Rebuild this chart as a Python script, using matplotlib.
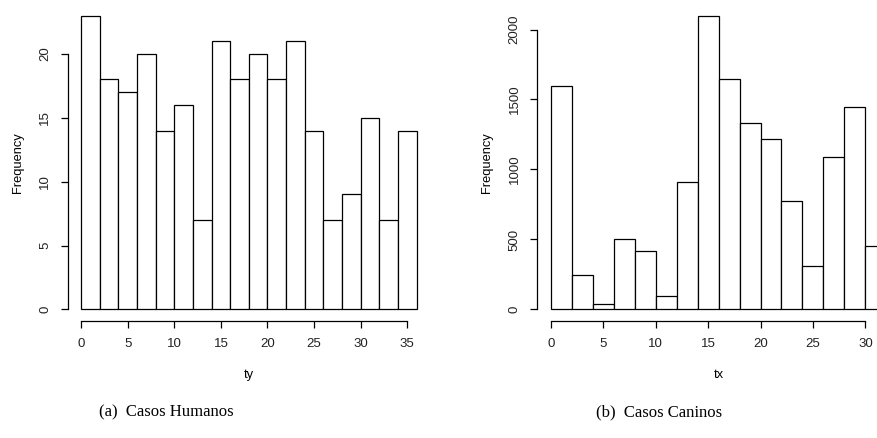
import numpy as np
import matplotlib
matplotlib.use("Agg")
import matplotlib.pyplot as plt

# histogram counts (bins of width 2)
human_edges = np.arange(0, 38, 2)
human_counts = [23, 18, 17, 20, 14, 16, 7, 21, 18, 20, 18, 21, 14, 7, 9, 15, 7, 14]
human_yticks = [0, 5, 10, 15, 20]
human_xticks = [0, 5, 10, 15, 20, 25, 30, 35]

canine_edges = np.arange(0, 34, 2)
canine_counts = [1600, 245, 42, 502, 414, 95, 914, 2100, 1645, 1329,
                 1221, 776, 312, 1086, 1445, 450]
canine_yticks = [0, 500, 1000, 1500, 2000]
canine_xticks = [0, 5, 10, 15, 20, 25, 30]

plt.rcParams['font.family'] = ['Liberation Sans', 'DejaVu Sans']
fig = plt.figure(figsize=(8.77, 4.38), dpi=100)


def r_hist(ax, edges, counts, xticks, yticks, xlabel):
    ax.bar(edges[:-1], counts, width=np.diff(edges), align='edge',
           facecolor='white', edgecolor='black', linewidth=0.9)
    lo, hi = edges[0], edges[-1]
    pad = (hi - lo) * 0.04
    ax.set_xlim(lo - pad, hi + pad)
    ymax = max(counts)
    ax.set_ylim(-ymax * 0.04, ymax * 1.04)
    for s in ['top', 'right']:
        ax.spines[s].set_visible(False)
    ax.spines['left'].set_bounds(yticks[0], yticks[-1])
    ax.spines['bottom'].set_bounds(xticks[0], xticks[-1])
    for s in ['left', 'bottom']:
        ax.spines[s].set_linewidth(0.9)
    ax.set_xticks(xticks)
    ax.set_yticks(yticks)
    ax.set_yticklabels([str(t) for t in yticks], rotation=90, va='center')
    ax.tick_params(direction='out', length=5, width=0.9, labelsize=9.5,
                   colors='black', labelcolor='#222222', pad=7)
    ax.set_xlabel(xlabel, fontsize=9.3, labelpad=14)
    ax.set_ylabel('Frequency', fontsize=9.3, labelpad=11)


ax1 = fig.add_axes([0.0772, 0.2667, 0.4131, 0.7247])
r_hist(ax1, human_edges, human_counts, human_xticks, human_yticks, 'ty')

ax2 = fig.add_axes([0.6127, 0.2667, 0.4133, 0.7247])
r_hist(ax2, canine_edges, canine_counts, canine_xticks, canine_yticks, 'tx')

fig.text(166 / 877, 1 - 412 / 438, '(a)  Casos Humanos', family='Liberation Serif',
         fontsize=12, ha='center', va='center')
fig.text(659 / 877, 1 - 412 / 438, '(b)  Casos Caninos', family='Liberation Serif',
         fontsize=12, ha='center', va='center')

fig.savefig('out.png', dpi=100)
